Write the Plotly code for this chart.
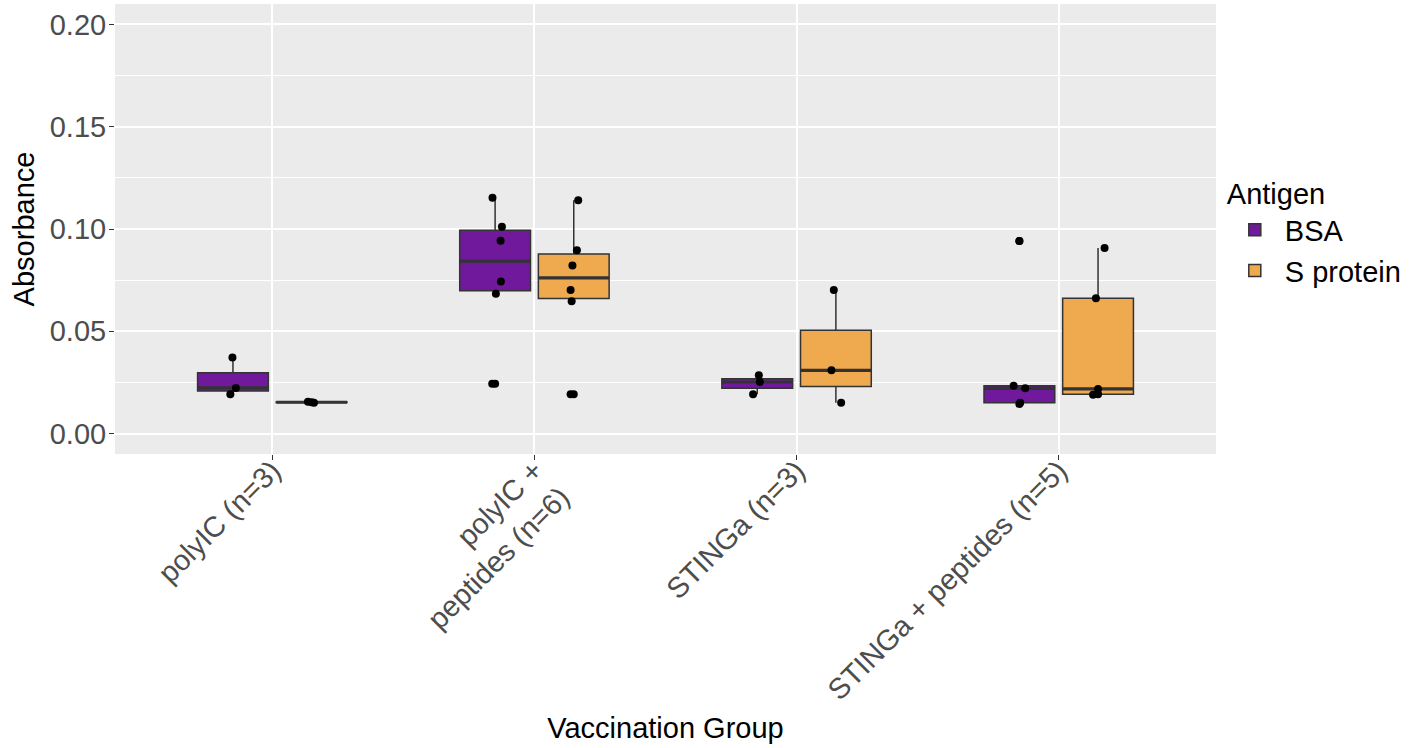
import numpy as np
import plotly.graph_objects as go

# Vaccination groups (x categories) and antigen series
groups = [
    "polyIC (n=3)",
    "polyIC +<br>peptides (n=6)",
    "STINGa (n=3)",
    "STINGa + peptides (n=5)",
]
antigens = ["BSA", "S protein"]

# Absorbance readings per group
bsa_values = [
    [0.0372, 0.0223, 0.0192],
    [0.1153, 0.1011, 0.0943, 0.0743, 0.0683, 0.0244],
    [0.0285, 0.0252, 0.0192],
    [0.0941, 0.0234, 0.0221, 0.0150, 0.0145],
]
s_protein_values = [
    [0.0155, 0.0150, 0.0153],
    [0.1141, 0.0896, 0.0821, 0.0702, 0.0647, 0.0192],
    [0.0702, 0.0309, 0.0151],
    [0.0907, 0.0662, 0.0218, 0.0190, 0.0192],
]

# Horizontal jitter of each plotted point (x units), same layout as the values
bsa_jitter = [
    [-0.002, 0.011, -0.010],
    [-0.010, 0.026, 0.021, 0.022, 0.003, -0.011],
    [0.006, 0.010, -0.016],
    [0.000, -0.022, 0.022, 0.003, 0.000],
]
s_protein_jitter = [
    [-0.014, 0.009, 0.000],
    [0.017, 0.012, -0.005, -0.012, -0.008, -0.012],
    [-0.008, -0.017, 0.020],
    [0.025, -0.008, 0.000, -0.019, 0.000],
]

colors = {"BSA": "#71199C", "S protein": "#EFA94E"}
dodge = {"BSA": -0.15, "S protein": 0.15}
box_width = 0.27
edge = "#333333"
font_family = "Liberation Sans, Arial, sans-serif"
point_size = 8


def box_stats(values):
    """Tukey box statistics (quantile type 7, 1.5*IQR whiskers)."""
    v = np.sort(np.asarray(values, dtype=float))
    q1, med, q3 = np.percentile(v, [25, 50, 75])
    iqr = q3 - q1
    lo_lim, hi_lim = q1 - 1.5 * iqr, q3 + 1.5 * iqr
    inside = v[(v >= lo_lim) & (v <= hi_lim)]
    outliers = v[(v < lo_lim) | (v > hi_lim)]
    return q1, med, q3, inside.min(), inside.max(), outliers


fig = go.Figure()

series = {"BSA": (bsa_values, bsa_jitter), "S protein": (s_protein_values, s_protein_jitter)}

for antigen in antigens:
    vals, jit = series[antigen]
    pos = [i + 1 + dodge[antigen] for i in range(len(groups))]
    stats = [box_stats(v) for v in vals]

    fig.add_trace(go.Box(
        name=antigen,
        x=pos,
        q1=[s[0] for s in stats],
        median=[s[1] for s in stats],
        q3=[s[2] for s in stats],
        lowerfence=[s[3] for s in stats],
        upperfence=[s[4] for s in stats],
        width=box_width,
        boxpoints=False,
        fillcolor=colors[antigen],
        line=dict(color=edge, width=1.5),
        whiskerwidth=0,
        showlegend=True,
        hoverinfo="skip",
    ))

    # thicker median bars
    mx, my = [], []
    for p, s in zip(pos, stats):
        mx += [p - box_width / 2, p + box_width / 2, None]
        my += [s[1], s[1], None]
    fig.add_trace(go.Scatter(
        x=mx, y=my, mode="lines",
        line=dict(color=edge, width=3.2),
        showlegend=False, hoverinfo="skip",
    ))

    # outliers drawn by the boxplot at the box centre
    ox, oy = [], []
    for p, s in zip(pos, stats):
        for o in s[5]:
            ox.append(p)
            oy.append(o)
    fig.add_trace(go.Scatter(
        x=ox, y=oy, mode="markers",
        marker=dict(color="black", size=point_size),
        showlegend=False, hoverinfo="skip",
    ))

    # jittered observations
    px, py = [], []
    for p, v, j in zip(pos, vals, jit):
        for val, dj in zip(v, j):
            px.append(p + dj)
            py.append(val)
    fig.add_trace(go.Scatter(
        x=px, y=py, mode="markers",
        marker=dict(color="black", size=point_size),
        showlegend=False,
    ))

fig.update_layout(
    width=1420,
    height=748,
    margin=dict(l=115, r=204, t=4, b=294),
    paper_bgcolor="white",
    plot_bgcolor="#EBEBEB",
    boxmode="overlay",
    font=dict(family=font_family, size=29, color="black"),
    legend=dict(
        title=dict(text="Antigen", font=dict(size=29)),
        x=1.008, xanchor="left",
        y=0.494, yanchor="middle",
        font=dict(size=29),
        bgcolor="rgba(0,0,0,0)",
        itemwidth=50,
    ),
    xaxis=dict(
        range=[0.4, 4.6],
        tickmode="array",
        tickvals=[1, 2, 3, 4],
        ticktext=groups,
        tickangle=-45,
        tickfont=dict(size=29, color="#4D4D4D"),
        ticks="outside", ticklen=5, tickcolor=edge, tickwidth=1,
        ticklabelstandoff=-18,
        showgrid=True, gridcolor="white", gridwidth=2,
        zeroline=False, showline=False,
        automargin=False,
        title=dict(text="Vaccination Group", font=dict(size=29), standoff=12),
    ),
    yaxis=dict(
        range=[-0.01, 0.21],
        tickmode="array",
        tickvals=[0, 0.05, 0.10, 0.15, 0.20],
        ticktext=["0.00", "0.05", "0.10", "0.15", "0.20"],
        tickfont=dict(size=29, color="#4D4D4D"),
        ticks="outside", ticklen=5, tickcolor=edge, tickwidth=1,
        ticklabelstandoff=-3,
        showgrid=True, gridcolor="white", gridwidth=2,
        minor=dict(tickmode="array", tickvals=[0.025, 0.075, 0.125, 0.175],
                   showgrid=True, gridcolor="white", gridwidth=1, ticks=""),
        zeroline=False, showline=False,
        automargin=False,
        title=dict(text="Absorbance", font=dict(size=29), standoff=6),
    ),
)

fig.write_html("out.html")
